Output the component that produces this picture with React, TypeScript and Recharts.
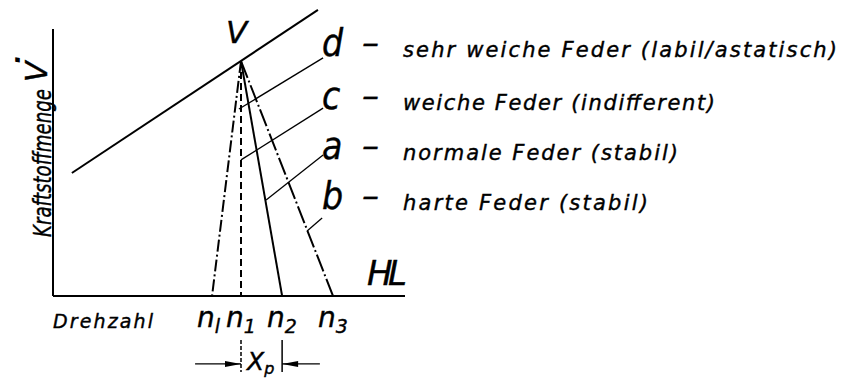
import { LineChart, Line, XAxis, YAxis, ReferenceLine, ReferenceDot } from 'recharts';

// speed (Drehzahl) positions, arbitrary units
const nL = 4.97;
const n1 = 5.875;
const n2 = 7.16;
const n3 = 8.75;

// regulation point V on the full-load line
const vPoint = { x: 5.875, y: 9.79 };
const fullLoad = [
  { x: 0.59, y: 5.125 },
  { x: 8.28, y: 11.92 },
];

const tickSpeeds = [nL, n1, n2, n3];
const tickSubs = ['l', '1', '2', '3'];

const springEnds = [nL, n1, n2, n3];
const springDash = ['12 3 2 3', '7 4', '', '18 3 2 3'];

const springLetters = ['d', 'c', 'a', 'b'];
const springTexts = [
  'sehr weiche Feder (labil/astatisch)',
  'weiche Feder (indifferent)',
  'normale Feder (stabil)',
  'harte Feder (stabil)',
];

// leader lines from the letters to the curves
const leaderFrom = [
  { x: 8.44, y: 9.92 },
  { x: 8.44, y: 7.83 },
  { x: 8.44, y: 5.875 },
  { x: 8.41, y: 3.25 },
];
const leaderTo = [
  { x: 5.81, y: 7.79 },
  { x: 5.875, y: 5.67 },
  { x: 6.66, y: 4.0 },
  { x: 7.94, y: 2.71 },
];

const yAxisTop = 11.125;
const xpTop = -1.83;
const xpBottom = -3.17;
const xpArrowY = -2.83;
const xpLeft = 4.44;
const xpRight = 8.34;

const font = '"DejaVu Sans", sans-serif';
const condensed = '"DejaVu Sans Condensed", "DejaVu Sans", sans-serif';

function NTick(props: any) {
  const { x, y, index } = props;
  return (
    <text x={x - 15} y={y + 31} fontFamily={font} fontStyle="italic" fontSize={28} fill="#000" stroke="#000" strokeWidth={0.4}>
      n
      <tspan fontSize={19} dy={6}>
        {tickSubs[index]}
      </tspan>
    </text>
  );
}

function Arrow(props: any) {
  const { cx, cy, dir } = props;
  const d = dir > 0 ? -1 : 1;
  return <polygon points={`${cx},${cy} ${cx + d * 16},${cy - 3} ${cx + d * 16},${cy + 3}`} fill="#000" />;
}

export default function App() {
  const rowY = [57, 110, 160, 210];
  const rowW = [434, 312, 275, 245];
  return (
    <div style={{ position: 'absolute', left: 0, top: 0, width: 843, height: 378, background: '#fff' }}>
      <LineChart width={843} height={378} margin={{ top: 8, right: 438, bottom: 42, left: 53 }}>
        <XAxis
          type="number"
          dataKey="x"
          domain={[0, 11]}
          ticks={tickSpeeds}
          interval={0}
          allowDataOverflow
          height={40}
          axisLine={{ stroke: '#000', strokeWidth: 2 }}
          tickLine={false}
          tickSize={0}
          tickMargin={0}
          tick={<NTick />}
        />
        <YAxis type="number" dataKey="y" domain={[0, 12]} allowDataOverflow hide />
        <ReferenceLine segment={[{ x: 0, y: 0 }, { x: 0, y: yAxisTop }]} stroke="#000" strokeWidth={2} ifOverflow="visible" />
        <Line data={fullLoad} dataKey="y" stroke="#000" strokeWidth={2} dot={false} isAnimationActive={false} />
        {springEnds.map((e, i) => (
          <Line
            key={i}
            data={[vPoint, { x: e, y: 0 }]}
            dataKey="y"
            stroke="#000"
            strokeWidth={2}
            strokeDasharray={springDash[i]}
            dot={false}
            isAnimationActive={false}
          />
        ))}
        {leaderFrom.map((p, i) => (
          <ReferenceLine key={'l' + i} segment={[p, leaderTo[i]]} stroke="#000" strokeWidth={1.3} ifOverflow="visible" />
        ))}
        <ReferenceLine segment={[{ x: n1, y: xpTop }, { x: n1, y: xpBottom }]} stroke="#000" strokeWidth={1.5} strokeDasharray="4 2" ifOverflow="visible" />
        <ReferenceLine segment={[{ x: n2, y: xpTop }, { x: n2, y: xpBottom }]} stroke="#000" strokeWidth={1.5} ifOverflow="visible" />
        <ReferenceLine segment={[{ x: xpLeft, y: xpArrowY }, { x: n1, y: xpArrowY }]} stroke="#000" strokeWidth={1.3} ifOverflow="visible" />
        <ReferenceLine segment={[{ x: xpRight, y: xpArrowY }, { x: n2, y: xpArrowY }]} stroke="#000" strokeWidth={1.3} ifOverflow="visible" />
        <ReferenceDot x={n1} y={xpArrowY} ifOverflow="visible" shape={(p: any) => <Arrow {...p} dir={1} />} />
        <ReferenceDot x={n2} y={xpArrowY} ifOverflow="visible" shape={(p: any) => <Arrow {...p} dir={-1} />} />
      </LineChart>
      <svg width={843} height={378} style={{ position: 'absolute', left: 0, top: 0, pointerEvents: 'none' }}>
        <g fontFamily={font} fontStyle="italic" fill="#000" stroke="#000" strokeWidth={0.4}>
          <text x={226} y={43} fontSize={31}>V</text>
          <text x={367} y={285} fontSize={34} textLength={40}>HL</text>
          <text x={53} y={328} fontSize={19} textLength={100}>Drehzahl</text>
          <text x={247} y={370} fontSize={25}>
            X<tspan fontSize={16} dy={4}>p</tspan>
          </text>
          <g transform="translate(51,237) rotate(-90)">
            <text x={0} y={0} fontSize={25} fontFamily={condensed} textLength={148} lengthAdjust="spacingAndGlyphs">
              Kraftstoffmenge
            </text>
          </g>
          <g transform="translate(47,82) rotate(-90)">
            <text x={0} y={0} fontSize={30}>V</text>
            <text x={12} y={-8} fontSize={30} strokeWidth={1.5}>{'\u02D9'}</text>
          </g>
          {springLetters.map((l, i) => (
            <g key={l}>
              <text x={322} y={rowY[i] - 1} fontSize={37} fontFamily={condensed}>{l}</text>
              <text x={362} y={rowY[i] - 4} fontSize={30} textLength={17} lengthAdjust="spacingAndGlyphs">–</text>
              <text x={403} y={rowY[i]} fontSize={21} textLength={rowW[i]}>{springTexts[i]}</text>
            </g>
          ))}
        </g>
      </svg>
    </div>
  );
}
